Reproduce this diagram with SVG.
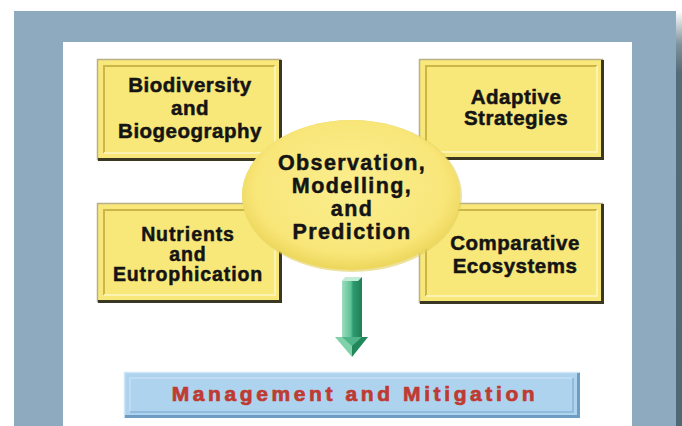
<svg xmlns="http://www.w3.org/2000/svg" width="682" height="426" viewBox="0 0 682 426">
<defs>
<linearGradient id="strip" x1="0" y1="0" x2="0" y2="1" gradientUnits="objectBoundingBox">
<stop offset="0" stop-color="#ffffff"/>
<stop offset="0.08" stop-color="#7d939e"/>
<stop offset="0.15" stop-color="#536b77"/>
<stop offset="1" stop-color="#4f6874"/>
</linearGradient>
<radialGradient id="ell" cx="0.5" cy="0.45" r="0.55">
<stop offset="0" stop-color="#fbee8e"/>
<stop offset="0.8" stop-color="#f8e679"/>
<stop offset="1" stop-color="#ecd65a"/>
</radialGradient>
<linearGradient id="shaft" x1="0" y1="0" x2="1" y2="0">
<stop offset="0" stop-color="#9fdcbf"/>
<stop offset="0.45" stop-color="#5cc296"/>
<stop offset="0.55" stop-color="#2f9a6e"/>
<stop offset="1" stop-color="#1f7f57"/>
</linearGradient>
<style>
.frame{fill:#8eaabe}
.box{fill:#f8e87a}
.lt{stroke:#b9b186;stroke-width:1.5;fill:none}
.dk{stroke:#3a3822;stroke-width:3;fill:none}
.bvl{stroke:#cdb648;stroke-width:2;fill:none}
.bvh{stroke:#fcf3b2;stroke-width:2;fill:none}
.t{font-family:"Liberation Sans",Arial,sans-serif;font-weight:bold;fill:#141414;stroke:#141414;stroke-width:0.5px;text-anchor:middle;font-size:20.5px;letter-spacing:0.5px}
.ts{font-size:19.5px;letter-spacing:0.9px}
.te{font-size:21.5px;letter-spacing:1.4px}
.tm{font-family:"Liberation Sans",Arial,sans-serif;font-weight:bold;fill:#bf3a31;stroke:#bf3a31;stroke-width:0.7px;text-anchor:middle;font-size:21px;letter-spacing:3.6px}
</style>
</defs>
<rect x="0" y="0" width="682" height="426" fill="#ffffff"/>
<rect class="frame" x="14" y="11" width="662" height="415"/>
<rect x="676" y="11" width="6" height="415" fill="url(#strip)"/>
<rect x="63" y="42" width="569" height="384" fill="#ffffff"/>

<g id="node-biodiversity">
<rect class="box" x="97" y="59" width="185" height="102"/>
<polyline class="lt" points="97.5,160 97.5,59.5 281,59.5"/>
<polyline class="dk" points="98,159.5 280.5,159.5 280.5,60"/>
<polyline class="bvl" points="104,153 104,66 275,66"/>
<polyline class="bvh" points="104,153 275,153 275,66"/>
<text class="t" x="190" y="92">Biodiversity</text>
<text class="t" x="190" y="115">and</text>
<text class="t" x="190" y="138">Biogeography</text>
</g>

<g id="node-adaptive">
<rect class="box" x="419" y="59" width="185" height="101"/>
<polyline class="lt" points="419.5,159 419.5,59.5 603,59.5"/>
<polyline class="dk" points="420,158.5 602.5,158.5 602.5,60"/>
<polyline class="bvl" points="426,152 426,66 597,66"/>
<polyline class="bvh" points="426,152 597,152 597,66"/>
<text class="t" x="516" y="104">Adaptive</text>
<text class="t" x="516" y="125">Strategies</text>
</g>

<g id="node-nutrients">
<rect class="box" x="97" y="203" width="185" height="100"/>
<polyline class="lt" points="97.5,302 97.5,203.5 281,203.5"/>
<polyline class="dk" points="98,301.5 280.5,301.5 280.5,204"/>
<polyline class="bvl" points="104,295 104,210 275,210"/>
<polyline class="bvh" points="104,295 275,295 275,210"/>
<text class="t ts" x="188" y="241">Nutrients</text>
<text class="t ts" x="188" y="261">and</text>
<text class="t ts" x="188" y="281">Eutrophication</text>
</g>

<g id="node-comparative">
<rect class="box" x="419" y="203" width="185" height="101"/>
<polyline class="lt" points="419.5,303 419.5,203.5 603,203.5"/>
<polyline class="dk" points="420,302.5 602.5,302.5 602.5,204"/>
<polyline class="bvl" points="426,296 426,210 597,210"/>
<polyline class="bvh" points="426,296 597,296 597,210"/>
<text class="t" x="515" y="250">Comparative</text>
<text class="t" x="515" y="273">Ecosystems</text>
</g>

<g id="node-observation">
<ellipse cx="352" cy="196" rx="110" ry="76" fill="#e2cd5a" opacity="0.6"/>
<ellipse cx="351" cy="195" rx="109" ry="75" fill="url(#ell)"/>
<text class="t te" x="352" y="170">Observation,</text>
<text class="t te" x="352" y="193">Modelling,</text>
<text class="t te" x="352" y="216">and</text>
<text class="t te" x="352" y="239">Prediction</text>
</g>

<g id="connectors">
<polygon points="342,281 346,277 362,277 362,337 342,337" fill="url(#shaft)"/>
<polygon points="342,281 346,277 362,277 358,281" fill="#c3ecd7"/>
<polygon points="335,337 352,337 352,357" fill="#7fd2aa"/>
<polygon points="352,337 368,337 352,357" fill="#23875c"/>
<polygon points="342,337 352,346 362,337" fill="#4fb487"/>
</g>

<g id="node-management">
<rect x="124" y="372" width="456" height="46" fill="#aed3ee"/>
<polyline points="124.5,417 124.5,372.5 579,372.5" fill="none" stroke="#cfe6f6" stroke-width="1.5"/>
<polyline points="130,412 130,378 573,378" fill="none" stroke="#c5e0f3" stroke-width="1.5"/>
<polyline points="130,412 573,412 573,378" fill="none" stroke="#88b3d6" stroke-width="1.5"/>
<polyline points="125,416.5 578.5,416.5 578.5,373" fill="none" stroke="#6f9cc3" stroke-width="3"/>
<text class="tm" x="355" y="401">Management and Mitigation</text>
</g>
</svg>
